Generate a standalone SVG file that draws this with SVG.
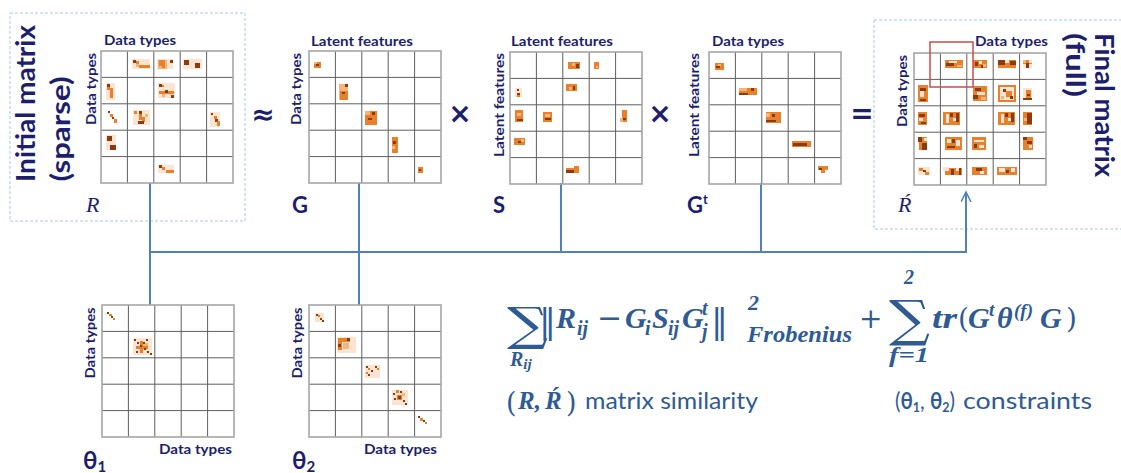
<svg xmlns="http://www.w3.org/2000/svg" xmlns:xlink="http://www.w3.org/1999/xlink" width="1121" height="473" viewBox="0 0 1121 473">
<style>
.lbl{font-family:Lato,"Liberation Sans",sans-serif;font-weight:bold;fill:#1d1f6e}
.big{font-family:Lato,"Liberation Sans",sans-serif;font-weight:bold;fill:#1d1f6e;font-size:27px}
.ax{font-size:13px}
.m{font-family:"Liberation Serif",serif;font-style:italic;fill:#1d1f6e;font-size:22px}
.op{font-family:"DejaVu Sans",sans-serif;font-weight:bold;fill:#1d1f6e;font-size:28px;text-anchor:middle}
.f{font-family:"Liberation Serif",serif;font-style:italic;font-weight:bold;fill:#2f5b94}
.fu{font-family:"DejaVu Serif",serif;font-style:normal;font-weight:normal;fill:#2f5b94}
.fs{font-family:Lato,"Liberation Sans",sans-serif;fill:#2f5b94;font-size:23px}
.box{fill:none;stroke:#a9c8e8;stroke-width:1;stroke-dasharray:3 2}
.gin{stroke:#5e5e5e;stroke-width:1;fill:none}
.gout{stroke:#a6a6a6;stroke-width:1.6;fill:none}
.d{fill:#8c3b10}.o{fill:#e9802c}.l{fill:#f4b47c}.p{fill:#fbe4d2}
.con{stroke:#4f81bd;stroke-width:2;fill:none}
</style>
<defs>
<g id="grid">
<path class="gin" d="M26.4,0V132M52.8,0V132M79.2,0V132M105.6,0V132M0,26.4H132M0,52.8H132M0,79.2H132M0,105.6H132"/>
<rect class="gout" x="0" y="0" width="132" height="132"/>
</g>
<marker id="arr" markerUnits="userSpaceOnUse" markerWidth="14" markerHeight="14" refX="10" refY="5" orient="auto">
<path d="M0,0 L10,5 L0,10" fill="none" stroke="#4f81bd" stroke-width="1.5"/>
</marker>
</defs>
<rect width="1121" height="473" fill="#fff"/>

<!-- dashed boxes -->
<rect class="box" x="10" y="13" width="235" height="208"/>
<rect class="box" x="874" y="20" width="260" height="209"/>

<!-- connectors -->
<g id="connectors">
<path class="con" d="M150,183V305"/>
<path class="con" d="M359,183V305"/>
<path class="con" d="M561,183V252"/>
<path class="con" d="M761,183V252"/>
<path class="con" d="M150,252H966V192" marker-end="url(#arr)"/>
</g>

<!-- Initial matrix R -->
<g id="node-R">
<text class="big" transform="translate(35,103.5) rotate(-90)" text-anchor="middle" textLength="157" lengthAdjust="spacingAndGlyphs">Initial matrix</text>
<text class="big" transform="translate(70,129) rotate(-90)" text-anchor="middle" textLength="105" lengthAdjust="spacingAndGlyphs">(sparse)</text>
<text class="lbl ax" x="104" y="45" textLength="72" lengthAdjust="spacingAndGlyphs">Data types</text>
<text class="lbl ax" transform="translate(96,89) rotate(-90)" text-anchor="middle" textLength="72" lengthAdjust="spacingAndGlyphs">Data types</text>
<use xlink:href="#grid" href="#grid" x="101" y="51"/>
<g>
<rect class="p" x="132" y="59" width="18" height="10"/><rect class="d" x="133" y="60" width="3" height="3"/><rect class="o" x="136" y="61" width="3" height="3"/><rect class="l" x="136" y="64" width="3" height="3"/><rect class="o" x="139" y="65" width="11" height="3"/>
<rect class="p" x="157" y="59" width="16" height="10"/><rect class="l" x="158" y="60" width="9" height="9"/><rect class="o" x="159" y="60" width="6" height="6"/><rect class="d" x="170" y="60" width="3" height="3"/><rect class="o" x="162" y="66" width="3" height="2"/>
<rect class="p" x="183" y="59" width="19" height="10"/><rect class="d" x="184" y="60" width="5" height="5"/><rect class="d" x="195" y="63" width="5" height="5"/>
<rect class="p" x="106" y="83" width="9" height="17"/><rect class="d" x="107" y="84" width="3" height="3"/><rect class="o" x="107" y="87" width="3" height="3"/><rect class="o" x="110" y="88" width="3" height="10"/>
<rect class="p" x="158" y="83" width="17" height="15"/><rect class="d" x="159" y="84" width="3" height="3"/><rect class="o" x="162" y="85" width="2" height="2"/><rect class="o" x="159" y="91" width="15" height="3"/><rect class="d" x="165" y="90" width="3" height="3"/><rect class="l" x="162" y="94" width="3" height="3"/><rect class="d" x="171" y="95" width="3" height="3"/>
<rect class="d" x="108" y="111" width="2" height="2"/><rect class="o" x="110" y="114" width="3" height="3"/><rect class="d" x="112" y="117" width="2" height="2"/><rect class="o" x="114" y="119" width="3" height="4"/>
<rect class="p" x="133" y="110" width="17" height="15"/><rect class="o" x="134" y="111" width="3" height="3"/><rect class="d" x="139" y="111" width="3" height="8"/><rect class="o" x="139" y="114" width="3" height="6"/><rect class="o" x="142" y="117" width="3" height="5"/><rect class="d" x="138" y="121" width="3" height="3"/><rect class="l" x="145" y="114" width="3" height="3"/><rect class="d" x="141" y="121" width="3" height="3"/>
<rect class="p" x="210" y="112" width="10" height="15"/><rect class="d" x="211" y="113" width="2" height="2"/><rect class="o" x="214" y="116" width="3" height="3"/><rect class="d" x="215" y="119" width="3" height="3"/><rect class="o" x="217" y="121" width="3" height="5"/>
<rect class="p" x="106" y="135" width="10" height="15"/><rect class="d" x="107" y="136" width="5" height="5"/><rect class="d" x="110" y="145" width="6" height="5"/>
<rect class="p" x="158" y="165" width="16" height="8"/><rect class="d" x="159" y="165" width="3" height="3"/><rect class="o" x="162" y="167" width="3" height="3"/><rect class="o" x="166" y="170" width="8" height="3"/>
</g>
<text class="m" x="86" y="212">R</text>
</g>

<text class="op" x="263" y="124">≈</text>

<!-- G -->
<g id="node-G">
<text class="lbl ax" x="311" y="46" textLength="102" lengthAdjust="spacingAndGlyphs">Latent features</text>
<text class="lbl ax" transform="translate(301,89) rotate(-90)" text-anchor="middle" textLength="72" lengthAdjust="spacingAndGlyphs">Data types</text>
<use xlink:href="#grid" href="#grid" x="309" y="51"/>
<g>
<rect class="o" x="314" y="62" width="7" height="6"/><rect class="l" x="314" y="62" width="3" height="2"/><rect class="d" x="316" y="64" width="3" height="2"/>
<rect class="l" x="339" y="84" width="9" height="16"/><rect class="o" x="340" y="91" width="8" height="9"/><rect class="d" x="345" y="84" width="3" height="3"/><rect class="d" x="342" y="92" width="3" height="2"/>
<rect class="o" x="365" y="111" width="12" height="14"/><rect class="l" x="365" y="111" width="5" height="4"/><rect class="d" x="372" y="112" width="3" height="3"/><rect class="d" x="368" y="118" width="4" height="2"/>
<rect class="o" x="392" y="137" width="6" height="16"/><rect class="d" x="393" y="141" width="3" height="3"/><rect class="l" x="392" y="146" width="3" height="3"/>
<rect class="o" x="418" y="167" width="5" height="6"/><rect class="d" x="419" y="169" width="2" height="2"/>
</g>
<text class="lbl" x="292" y="213" font-size="22">G</text>
</g>

<text class="op" x="460" y="123">×</text>

<!-- S -->
<g id="node-S">
<text class="lbl ax" x="511" y="46" textLength="102" lengthAdjust="spacingAndGlyphs">Latent features</text>
<text class="lbl ax" transform="translate(504,105) rotate(-90)" text-anchor="middle" textLength="104" lengthAdjust="spacingAndGlyphs">Latent features</text>
<use xlink:href="#grid" href="#grid" x="510" y="52"/>
<g>
<rect class="o" x="568" y="62" width="12" height="7"/><rect class="l" x="572" y="63" width="3" height="3"/><rect class="d" x="576" y="64" width="3" height="4"/>
<rect class="o" x="594" y="62" width="5" height="7"/><rect class="l" x="596" y="66" width="2" height="2"/>
<rect class="p" x="515" y="88" width="7" height="9"/><rect class="d" x="517" y="89" width="2" height="2"/><rect class="d" x="517" y="93" width="3" height="2"/><rect class="o" x="517" y="95" width="3" height="2"/>
<rect class="o" x="566" y="84" width="11" height="7"/><rect class="l" x="569" y="87" width="3" height="3"/><rect class="d" x="573" y="86" width="2" height="4"/>
<rect class="o" x="515" y="110" width="8" height="12"/><rect class="l" x="517" y="113" width="4" height="3"/><rect class="d" x="517" y="119" width="6" height="2"/>
<rect class="o" x="543" y="112" width="9" height="10"/><rect class="l" x="545" y="114" width="5" height="3"/><rect class="d" x="545" y="118" width="6" height="2"/>
<rect class="o" x="622" y="110" width="5" height="12"/><rect class="l" x="620" y="118" width="3" height="4"/><rect class="d" x="623" y="118" width="3" height="2"/>
<rect class="o" x="514" y="138" width="11" height="7"/><rect class="d" x="518" y="141" width="3" height="2"/><rect class="l" x="521" y="139" width="3" height="3"/>
<rect class="o" x="566" y="168" width="13" height="5"/><rect class="d" x="566" y="170" width="8" height="3"/><rect class="o" x="574" y="166" width="5" height="4"/>
</g>
<text class="lbl" x="493" y="213" font-size="22">S</text>
</g>

<text class="op" x="660" y="123">×</text>

<!-- G transpose -->
<g id="node-Gt">
<text class="lbl ax" x="712" y="46" textLength="72" lengthAdjust="spacingAndGlyphs">Data types</text>
<text class="lbl ax" transform="translate(699,105) rotate(-90)" text-anchor="middle" textLength="104" lengthAdjust="spacingAndGlyphs">Latent features</text>
<use xlink:href="#grid" href="#grid" x="709" y="52"/>
<g>
<rect class="o" x="715" y="63" width="9" height="7"/><rect class="l" x="718" y="64" width="3" height="2"/><rect class="d" x="716" y="66" width="4" height="2"/>
<rect class="o" x="739" y="88" width="18" height="7"/><rect class="l" x="739" y="88" width="8" height="3"/><rect class="d" x="739" y="93" width="9" height="2"/><rect class="d" x="751" y="88" width="3" height="3"/>
<rect class="o" x="766" y="112" width="15" height="11"/><rect class="l" x="766" y="113" width="4" height="4"/><rect class="d" x="772" y="114" width="3" height="3"/><rect class="d" x="766" y="120" width="10" height="2"/>
<rect class="o" x="792" y="141" width="19" height="6"/><rect class="d" x="793" y="143" width="14" height="3"/>
<rect class="o" x="818" y="166" width="10" height="4"/><rect class="d" x="819" y="168" width="3" height="2"/><rect class="o" x="821" y="170" width="4" height="3"/>
</g>
<text class="lbl" x="687" y="213" font-size="22">G<tspan font-size="13" dy="-9">t</tspan></text>
</g>

<text class="op" x="862" y="123">=</text>

<!-- Final matrix -->
<g id="node-Rhat">
<text class="big" transform="translate(1095,105) rotate(90)" text-anchor="middle" font-size="26" textLength="144" lengthAdjust="spacingAndGlyphs">Final matrix</text>
<text class="big" transform="translate(1066,65) rotate(90)" text-anchor="middle" font-size="26" textLength="64" lengthAdjust="spacingAndGlyphs">(full)</text>
<text class="lbl ax" x="975" y="46" textLength="73" lengthAdjust="spacingAndGlyphs">Data types</text>
<text class="lbl ax" transform="translate(907,91) rotate(-90)" text-anchor="middle" textLength="72" lengthAdjust="spacingAndGlyphs">Data types</text>
<use xlink:href="#grid" href="#grid" x="914" y="53"/>
<g>
<rect class="o" x="945" y="60" width="18" height="8"/><rect class="p" x="949" y="61" width="8" height="2"/><rect class="d" x="946" y="63" width="8" height="3"/><rect class="l" x="957" y="65" width="5" height="2"/>
<rect class="o" x="973" y="60" width="14" height="8"/><rect class="d" x="975" y="62" width="3" height="4"/><rect class="p" x="979" y="61" width="3" height="3"/><rect class="l" x="983" y="64" width="3" height="3"/><rect class="d" x="981" y="65" width="2" height="3"/>
<rect class="o" x="998" y="60" width="18" height="8"/><rect class="d" x="998" y="60" width="7" height="5"/><rect class="p" x="1005" y="60" width="4" height="3"/><rect class="d" x="1010" y="61" width="6" height="4"/>
<rect class="o" x="1023" y="60" width="9" height="8"/><rect class="l" x="1023" y="60" width="3" height="3"/><rect class="p" x="1029" y="60" width="3" height="3"/><rect class="d" x="1026" y="63" width="3" height="5"/><rect class="p" x="1023" y="64" width="3" height="4"/><rect class="p" x="1029" y="64" width="3" height="4"/>
<rect class="o" x="918" y="85" width="10" height="17"/><rect class="d" x="920" y="88" width="6" height="3"/><rect class="p" x="920" y="91" width="4" height="6"/><rect class="d" x="920" y="99" width="6" height="2"/>
<rect class="o" x="973" y="86" width="14" height="15"/><rect class="d" x="975" y="88" width="6" height="3"/><rect class="p" x="977" y="92" width="8" height="3"/><rect class="d" x="973" y="95" width="5" height="4"/><rect class="l" x="981" y="97" width="5" height="3"/>
<rect class="o" x="998" y="85" width="18" height="17"/><rect class="p" x="1000" y="87" width="14" height="13"/><rect class="d" x="1003" y="89" width="3" height="3"/><rect class="o" x="1006" y="91" width="6" height="6"/><rect class="d" x="1010" y="96" width="3" height="3"/><rect class="l" x="1001" y="96" width="3" height="3"/>
<rect class="p" x="1023" y="88" width="9" height="12"/><rect class="o" x="1026" y="90" width="5" height="8"/><rect class="d" x="1027" y="94" width="3" height="2"/><rect class="d" x="1023" y="98" width="9" height="2"/>
<rect class="o" x="918" y="112" width="9" height="13"/><rect class="d" x="919" y="114" width="6" height="3"/><rect class="p" x="919" y="118" width="4" height="3"/><rect class="d" x="921" y="122" width="5" height="2"/>
<rect class="o" x="943" y="112" width="17" height="13"/><rect class="p" x="946" y="114" width="3" height="9"/><rect class="d" x="950" y="113" width="3" height="4"/><rect class="p" x="953" y="118" width="4" height="3"/><rect class="d" x="956" y="113" width="3" height="9"/>
<rect class="o" x="998" y="112" width="17" height="13"/><rect class="p" x="1001" y="114" width="3" height="9"/><rect class="d" x="1005" y="113" width="3" height="4"/><rect class="p" x="1008" y="118" width="4" height="3"/><rect class="d" x="1011" y="113" width="3" height="9"/>
<rect class="o" x="1023" y="112" width="9" height="13"/><rect class="d" x="1027" y="113" width="5" height="11"/><rect class="l" x="1024" y="118" width="3" height="3"/>
<rect class="o" x="919" y="137" width="8" height="13"/><rect class="d" x="918" y="137" width="4" height="5"/><rect class="p" x="924" y="138" width="3" height="3"/><rect class="d" x="922" y="143" width="5" height="7"/>
<rect class="o" x="945" y="137" width="17" height="13"/><rect class="p" x="947" y="139" width="4" height="4"/><rect class="d" x="952" y="139" width="3" height="4"/><rect class="p" x="956" y="140" width="4" height="6"/><rect class="d" x="947" y="146" width="8" height="2"/>
<rect class="o" x="972" y="137" width="14" height="13"/><rect class="p" x="974" y="140" width="10" height="2"/><rect class="d" x="974" y="144" width="3" height="4"/><rect class="p" x="979" y="145" width="5" height="3"/>
<rect class="o" x="1023" y="137" width="10" height="13"/><rect class="d" x="1023" y="137" width="4" height="3"/><rect class="d" x="1027" y="141" width="5" height="3"/><rect class="p" x="1029" y="145" width="3" height="3"/>
<rect class="p" x="918" y="167" width="12" height="8"/><rect class="o" x="919" y="168" width="4" height="3"/><rect class="d" x="923" y="170" width="3" height="2"/><rect class="o" x="925" y="172" width="4" height="3"/>
<rect class="o" x="945" y="168" width="17" height="7"/><rect class="p" x="943" y="167" width="6" height="4"/><rect class="d" x="951" y="169" width="3" height="6"/><rect class="p" x="956" y="168" width="3" height="3"/><rect class="d" x="959" y="168" width="2" height="7"/>
<rect class="o" x="972" y="167" width="15" height="8"/><rect class="d" x="976" y="168" width="6" height="3"/><rect class="p" x="980" y="171" width="4" height="3"/>
<rect class="o" x="997" y="167" width="20" height="8"/><rect class="p" x="999" y="168" width="6" height="4"/><rect class="d" x="1006" y="170" width="3" height="3"/><rect class="p" x="1011" y="168" width="4" height="4"/>
</g>
<rect x="930" y="42" width="43" height="45" fill="none" stroke="#cc4b4b" stroke-width="1.5"/>
<text class="m" x="898" y="212">Ŕ</text>
</g>

<!-- theta 1 -->
<g id="node-theta1">
<text class="lbl ax" transform="translate(95,343) rotate(-90)" text-anchor="middle" textLength="71" lengthAdjust="spacingAndGlyphs">Data types</text>
<use xlink:href="#grid" href="#grid" x="102" y="305"/>
<g>
<rect class="d" x="107" y="312" width="2" height="2"/><rect class="o" x="109" y="314" width="3" height="2"/><rect class="d" x="111" y="316" width="2" height="2"/><rect class="o" x="113" y="318" width="2" height="2"/>
<rect class="p" x="133" y="338" width="19" height="17"/><rect class="o" x="140" y="341" width="3" height="12"/><rect class="o" x="136" y="346" width="12" height="3"/><rect class="l" x="143" y="343" width="5" height="3"/>
<rect class="d" x="134" y="339" width="2" height="2"/><rect class="d" x="137" y="342" width="2" height="2"/><rect class="d" x="140" y="345" width="2" height="2"/><rect class="d" x="144" y="348" width="2" height="2"/><rect class="d" x="147" y="351" width="2" height="2"/><rect class="d" x="150" y="353" width="2" height="2"/><rect class="d" x="146" y="339" width="2" height="2"/><rect class="d" x="143" y="342" width="2" height="2"/><rect class="d" x="136" y="351" width="2" height="2"/>
</g>
<text class="lbl ax" x="159" y="454" textLength="73" lengthAdjust="spacingAndGlyphs">Data types</text>
<text class="lbl" x="83" y="469" font-size="24">θ<tspan font-size="15" dy="3">1</tspan></text>
</g>

<!-- theta 2 -->
<g id="node-theta2">
<text class="lbl ax" transform="translate(302,343) rotate(-90)" text-anchor="middle" textLength="71" lengthAdjust="spacingAndGlyphs">Data types</text>
<use xlink:href="#grid" href="#grid" x="309" y="305"/>
<g>
<rect class="p" x="315" y="313" width="9" height="9"/><rect class="d" x="316" y="314" width="2" height="2"/><rect class="o" x="318" y="315" width="2" height="2"/><rect class="d" x="320" y="318" width="2" height="2"/><rect class="d" x="322" y="320" width="2" height="2"/>
<rect class="p" x="337" y="337" width="19" height="16"/><rect class="o" x="338" y="338" width="12" height="4"/><rect class="o" x="338" y="338" width="4" height="12"/><rect class="d" x="338" y="344" width="3" height="3"/><rect class="d" x="347" y="338" width="3" height="3"/><rect class="l" x="343" y="343" width="6" height="6"/>
<rect class="p" x="365" y="365" width="15" height="13"/><rect class="d" x="366" y="366" width="2" height="2"/><rect class="o" x="368" y="368" width="2" height="2"/><rect class="d" x="371" y="370" width="2" height="2"/><rect class="d" x="375" y="366" width="2" height="2"/><rect class="o" x="377" y="368" width="2" height="2"/><rect class="d" x="368" y="374" width="2" height="2"/><rect class="o" x="366" y="372" width="2" height="2"/>
<rect class="p" x="392" y="390" width="16" height="15"/><rect class="d" x="393" y="393" width="2" height="2"/><rect class="o" x="396" y="390" width="3" height="3"/><rect class="d" x="400" y="391" width="2" height="2"/><rect class="o" x="397" y="395" width="5" height="5"/><rect class="d" x="398" y="396" width="3" height="3"/><rect class="d" x="394" y="398" width="2" height="2"/><rect class="d" x="403" y="400" width="2" height="2"/><rect class="d" x="405" y="403" width="2" height="2"/><rect class="l" x="402" y="393" width="3" height="3"/>
<rect class="d" x="418" y="416" width="2" height="2"/><rect class="o" x="420" y="418" width="3" height="3"/><rect class="d" x="423" y="420" width="2" height="2"/><rect class="o" x="425" y="422" width="2" height="2"/>
</g>
<text class="lbl ax" x="364" y="454" textLength="73" lengthAdjust="spacingAndGlyphs">Data types</text>
<text class="lbl" x="292" y="469" font-size="24">θ<tspan font-size="15" dy="3">2</tspan></text>
</g>

<!-- formula -->
<g id="formula">
<text class="fu" transform="translate(507,340) scale(1.25,1)" font-size="46">∑</text>
<text class="f" x="510" y="366" font-size="20">R<tspan font-size="15" dy="3">ij</tspan></text>
<text class="fu" x="539" y="333" font-size="34">‖</text>
<text class="f" font-size="30" y="328"><tspan x="556">R</tspan><tspan x="577" y="335" font-size="20">ij</tspan><tspan x="597" y="328" class="fu">−</tspan><tspan x="625">G</tspan><tspan x="645" y="335" font-size="20">i</tspan><tspan x="652" y="328">S</tspan><tspan x="668" y="335" font-size="20">ij</tspan><tspan x="682" y="328">G</tspan><tspan x="702" y="315" font-size="20">t</tspan><tspan x="702" y="338" font-size="20">j</tspan></text>
<text class="fu" x="711" y="333" font-size="34">‖</text>
<text class="f" x="748" y="310" font-size="22">2</text>
<text class="f" x="747" y="342" font-size="23" textLength="105" lengthAdjust="spacingAndGlyphs">Frobenius</text>
<text class="fu" x="859" y="328" font-size="28">+</text>
<text class="f" x="904" y="284" font-size="20">2</text>
<text class="fu" transform="translate(889,336) scale(1.15,1)" font-size="50">∑</text>
<text class="f" x="889" y="362" font-size="20" textLength="40" lengthAdjust="spacingAndGlyphs">f=1</text>
<text class="f" font-size="30" y="328"><tspan x="932" textLength="25" lengthAdjust="spacingAndGlyphs">tr</tspan><tspan x="958" class="fu" font-size="28">(</tspan><tspan x="968">G</tspan><tspan x="989" y="316" font-size="19">t</tspan><tspan x="997" y="328">θ</tspan><tspan x="1014" y="317" font-size="19">(f)</tspan><tspan x="1040" y="328">G</tspan><tspan x="1066" class="fu" font-size="28">)</tspan></text>
<text class="fu" x="506" y="412" font-size="27">(</text>
<text class="f" x="518" y="409" font-size="25">R,</text>
<text class="f" x="545" y="409" font-size="25">Ŕ</text>
<text class="fu" x="566" y="412" font-size="27">)</text>
<text class="fs" x="585" y="409" textLength="173" lengthAdjust="spacingAndGlyphs">matrix similarity</text>
<text class="fs" x="895" y="409" textLength="60" lengthAdjust="spacingAndGlyphs">(<tspan font-weight="bold">θ</tspan><tspan font-weight="bold" font-size="14" dy="3">1</tspan><tspan dy="-3">, </tspan><tspan font-weight="bold">θ</tspan><tspan font-weight="bold" font-size="14" dy="3">2</tspan><tspan dy="-3">)</tspan></text>
<text class="fs" x="963" y="409" textLength="129" lengthAdjust="spacingAndGlyphs">constraints</text>
</g>
</svg>
